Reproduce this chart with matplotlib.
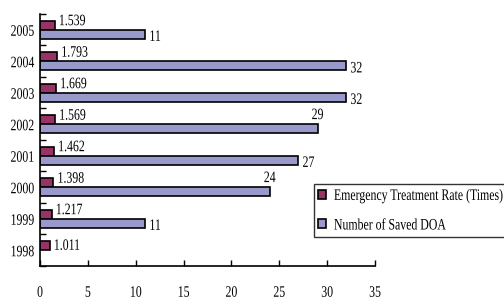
import numpy as np
import matplotlib
matplotlib.use("Agg")
import matplotlib.pyplot as plt
from matplotlib.patheffects import AbstractPathEffect
from matplotlib.transforms import Affine2D
from matplotlib.ticker import FixedLocator

# data
years = ["1998", "1999", "2000", "2001", "2002", "2003", "2004", "2005"]
rate = [1.011, 1.217, 1.398, 1.462, 1.569, 1.669, 1.793, 1.539]
saved_doa = [np.nan, 11, 24, 27, 29, 32, 32, 11]
rate_label = "Emergency Treatment Rate (Times)"
doa_label = "Number of Saved DOA"
x_ticks = [0, 5, 10, 15, 20, 25, 30, 35]

plt.rcParams["font.family"] = ["Liberation Serif", "DejaVu Serif"]
plt.rcParams["font.size"] = 11.5
SX = 0.74  # the reference text is horizontally squeezed


class Squash(AbstractPathEffect):
    """Narrow the glyphs around the alignment anchor."""

    def __init__(self, sx, anchor="left"):
        super().__init__()
        self.sx = sx
        self.anchor = anchor

    def draw_path(self, renderer, gc, tpath, affine, rgbFace=None):
        ext = tpath.get_extents()
        if self.anchor == "right":
            x0 = ext.x1
        elif self.anchor == "center":
            x0 = (ext.x0 + ext.x1) / 2
        else:
            x0 = 0
        t = Affine2D().translate(-x0, 0).scale(self.sx, 1).translate(x0, 0) + affine
        renderer.draw_path(gc, tpath, t, rgbFace)


fig = plt.figure(figsize=(5.04, 3.01), dpi=100)
ax = fig.add_axes([0.0794, 0.1163, 0.6646, 0.8372])

y = np.arange(len(years))
h = 0.28
b1 = ax.barh(y + h / 2, rate, height=h, color="#993366", edgecolor="black",
             linewidth=1.2, label=rate_label)
b2 = ax.barh(y - h / 2, saved_doa, height=h, color="#9999CC", edgecolor="black",
             linewidth=1.2, label=doa_label)

# value labels
for i, v in enumerate(rate):
    dy = 0 if i == 0 else 3
    ax.annotate(f"{v:.3f}", (v, y[i] + h / 2), xytext=(3, dy),
                textcoords="offset points", ha="left", va="center",
                path_effects=[Squash(SX)])
for i, v in enumerate(saved_doa):
    if np.isnan(v):
        continue
    if i in (2, 4):
        ax.annotate(f"{v:g}", (v, y[i] - h / 2), xytext=(0, 4),
                    textcoords="offset points", ha="center", va="bottom",
                    path_effects=[Squash(SX, "center")])
    else:
        ax.annotate(f"{v:g}", (v, y[i] - h / 2), xytext=(3, -2),
                    textcoords="offset points", ha="left", va="center",
                    path_effects=[Squash(SX)])

ax.set_xlim(0, 35)
ax.set_ylim(-0.5, len(years) - 0.5)
ax.set_xticks(x_ticks)
ax.set_yticks(y)
ax.set_yticklabels(years)
ax.yaxis.set_minor_locator(FixedLocator(np.arange(-0.5, len(years), 1.0)))

ax.tick_params(axis="x", direction="in", length=4, width=1, pad=13.5)
ax.tick_params(axis="y", which="major", length=0, pad=4)
ax.tick_params(axis="y", which="minor", direction="in", length=4, width=1)
for lab in ax.get_xticklabels():
    lab.set_path_effects([Squash(SX, "center")])
for lab in ax.get_yticklabels():
    lab.set_path_effects([Squash(SX, "right")])

for s in ("top", "right"):
    ax.spines[s].set_visible(False)
for s in ("left", "bottom"):
    ax.spines[s].set_linewidth(1.2)

leg = fig.legend(handles=[b1, b2], loc="upper left",
                 bbox_to_anchor=(0.623, 0.389), bbox_transform=fig.transFigure,
                 frameon=True, fancybox=False, edgecolor="black",
                 borderaxespad=0, borderpad=0.25, labelspacing=0.85,
                 handlelength=0.5, handleheight=0.5, handletextpad=0.5)
leg.get_frame().set_linewidth(1.0)
for t in leg.get_texts():
    t.set_path_effects([Squash(SX)])

fig.savefig("out.png", dpi=100)
